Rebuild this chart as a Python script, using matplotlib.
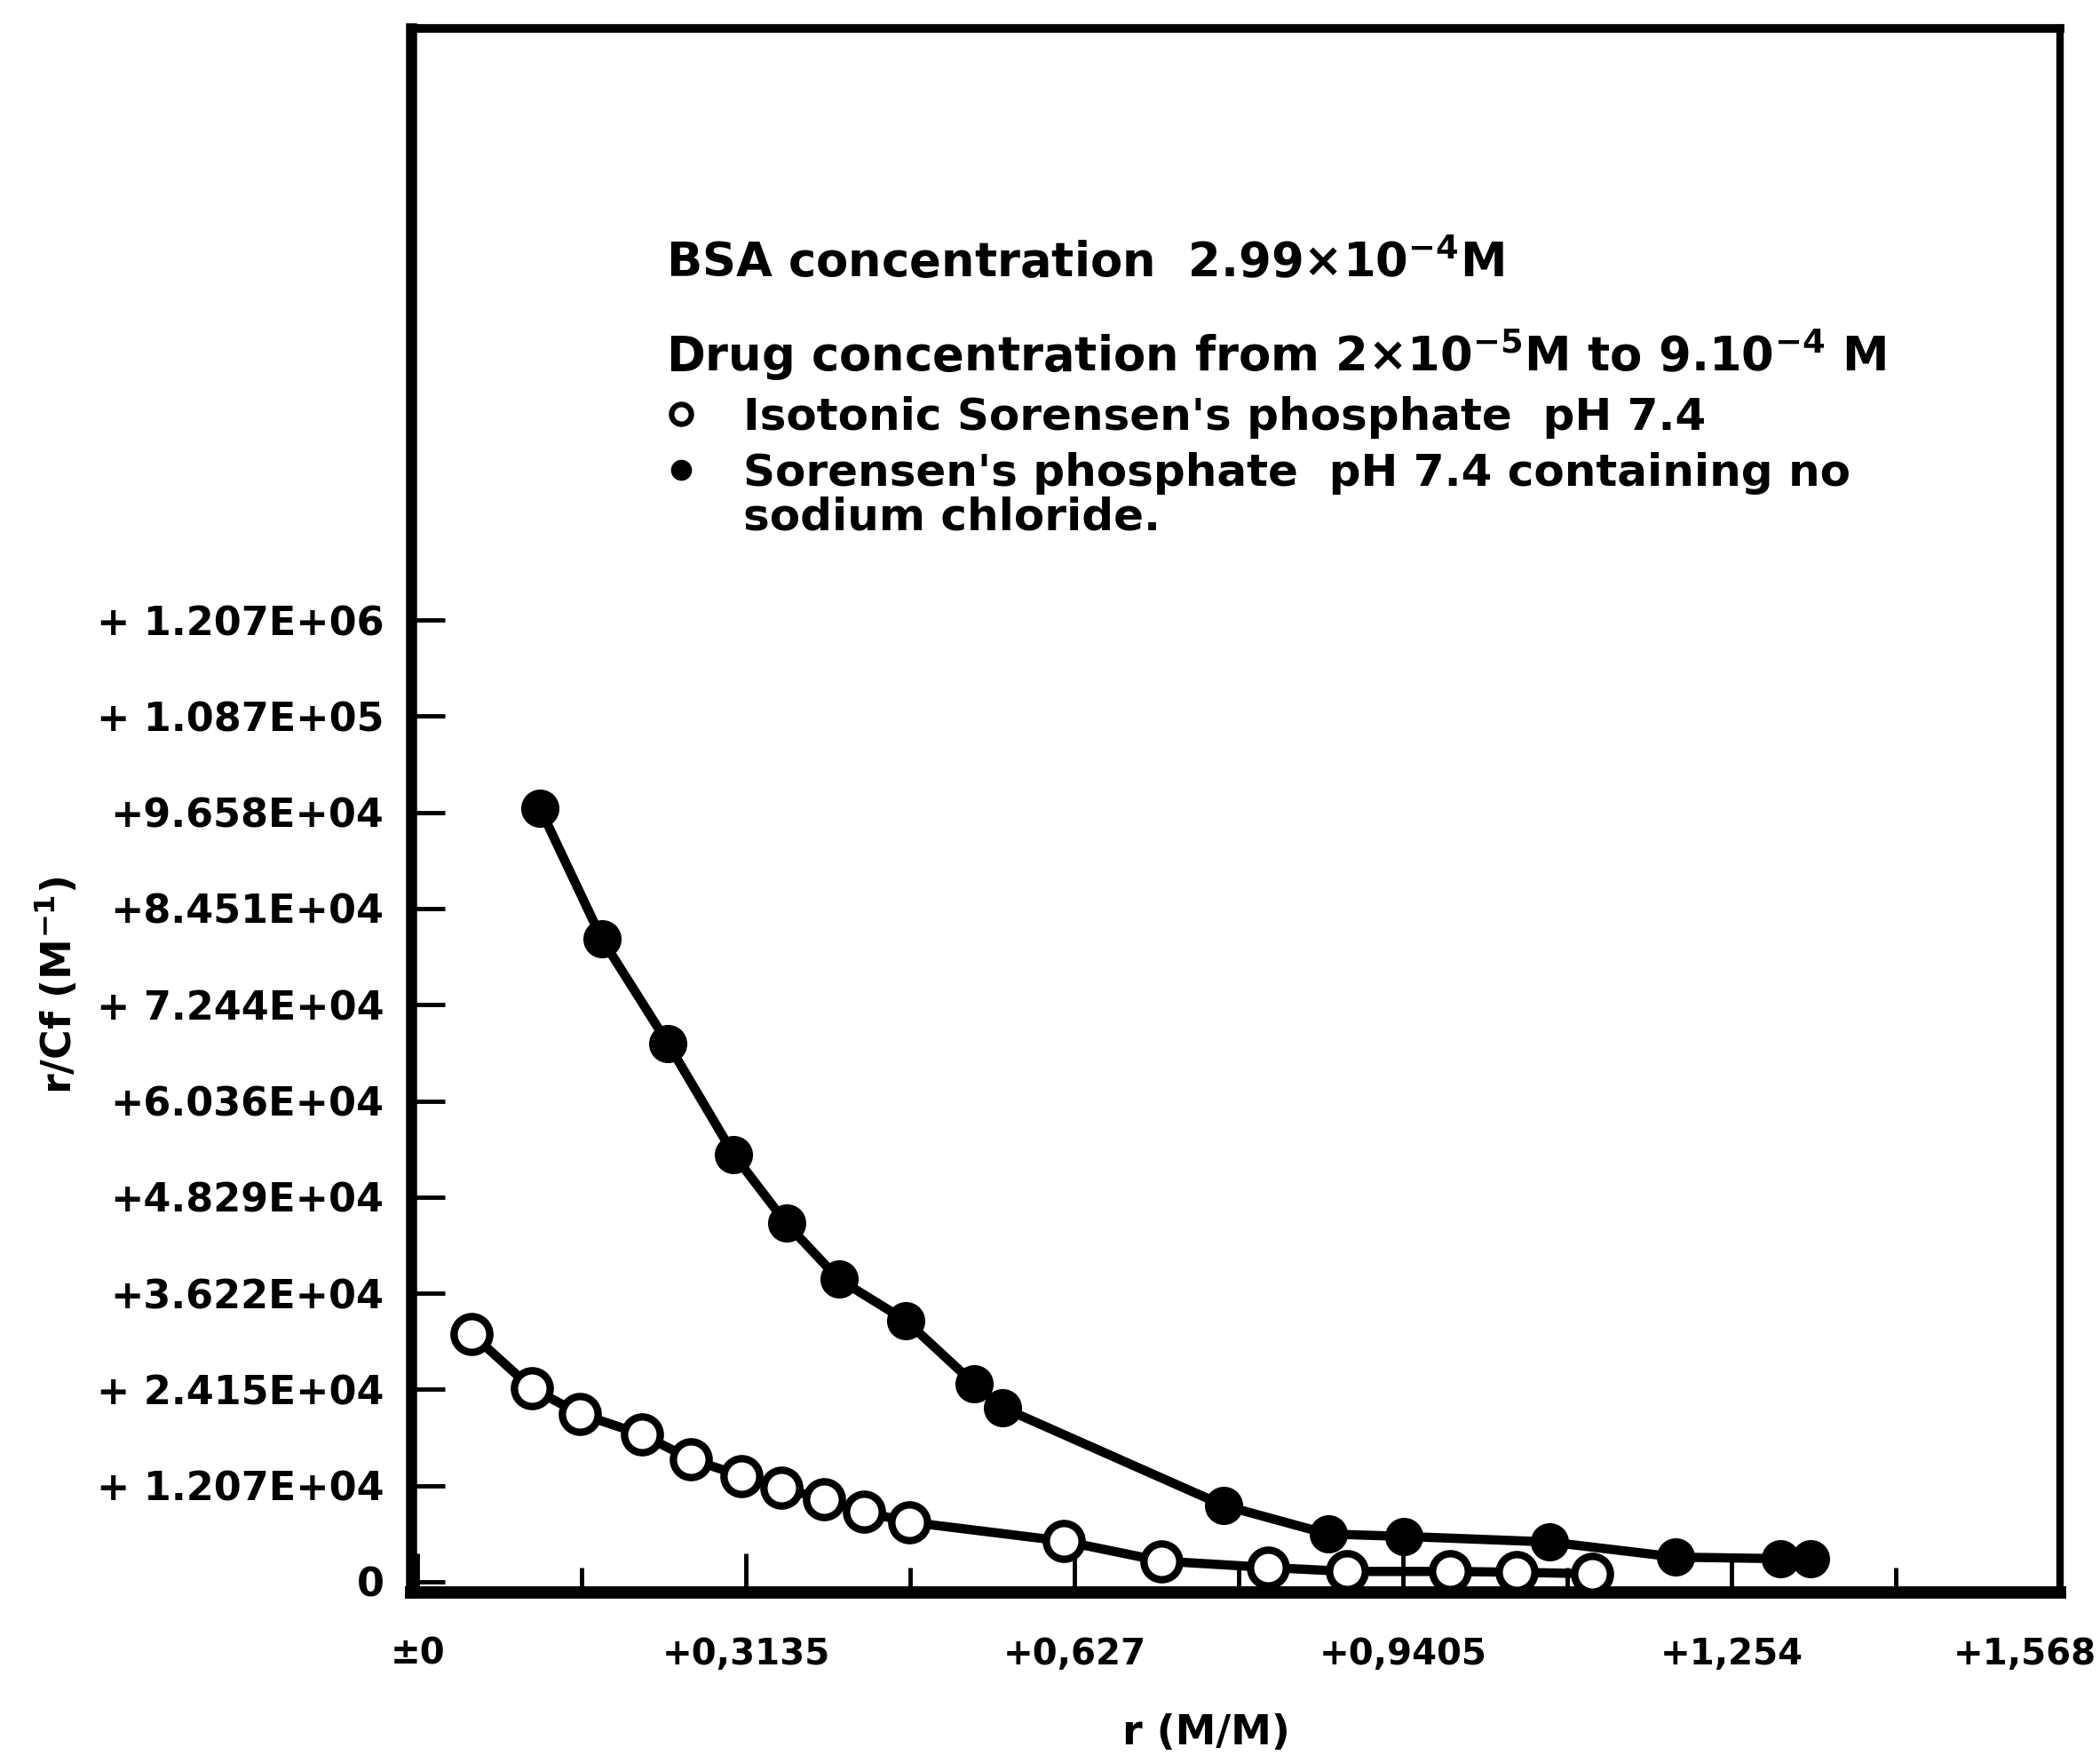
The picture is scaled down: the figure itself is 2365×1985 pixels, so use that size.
import matplotlib
matplotlib.use("Agg")
import matplotlib.pyplot as plt
from matplotlib.lines import Line2D
from matplotlib.transforms import ScaledTranslation

# r (M/M) against r/Cf (M^-1)
# filled circles: Sorensen's phosphate pH 7.4, no sodium chloride
r_no_nacl = [0.117, 0.176, 0.239, 0.302, 0.352, 0.402, 0.466, 0.531, 0.558,
             0.769, 0.869, 0.941, 1.080, 1.201, 1.301, 1.329]
rcf_no_nacl = [97100, 80700, 67600, 53600, 45000, 38000, 32800, 24900, 21900,
               9600, 6000, 5700, 5000, 3100, 2900, 2900]

# open circles: isotonic Sorensen's phosphate pH 7.4
r_isotonic = [0.052, 0.109, 0.155, 0.214, 0.261, 0.309, 0.347, 0.388, 0.426,
              0.469, 0.617, 0.710, 0.812, 0.887, 0.985, 1.049, 1.121]
rcf_isotonic = [31100, 24300, 21100, 18500, 15400, 13300, 11800, 10400, 8800,
                7500, 5100, 2600, 1800, 1300, 1300, 1200, 1000]

x_major = [0, 0.3135, 0.627, 0.9405, 1.254, 1.5675]
x_major_labels = ["\u00b10", "+0,3135", "+0,627", "+0,9405", "+1,254", "+1,568"]
x_minor = [0.15675, 0.47025, 0.78375, 1.09725, 1.41075]

y_ticks = [0, 12070, 24150, 36220, 48290, 60360, 72440, 84510, 96580, 108700, 120700]
y_labels = ["0", "+ 1.207E+04", "+ 2.415E+04", "+3.622E+04", "+4.829E+04",
            "+6.036E+04", "+ 7.244E+04", "+8.451E+04", "+9.658E+04",
            "+ 1.087E+05", "+ 1.207E+06"]

plt.rcParams['font.family'] = ['DejaVu Sans']
plt.rcParams['font.weight'] = 'bold'
plt.rcParams['mathtext.default'] = 'bf'

W, H = 2365, 1985
fig = plt.figure(figsize=(W / 100, H / 100), dpi=100, facecolor='white')
ax = fig.add_axes([463 / W, 1 - 1793 / H, (2320 - 463) / W, (1793 - 32) / H])

ax.plot(r_no_nacl, rcf_no_nacl, color='black', lw=7.5, marker='o', ms=30,
        mfc='black', mec='black', clip_on=False, zorder=3)
ax.plot(r_isotonic, rcf_isotonic, color='black', lw=7.5, marker='o', ms=29,
        mfc='white', mec='black', mew=6, clip_on=False, zorder=3)

ax.set_xlim(-0.006, 1.5675)
ax.set_ylim(-1340, 195000)

ax.set_xticks(x_major)
ax.set_xticklabels(x_major_labels)
ax.set_xticks(x_minor, minor=True)
ax.set_yticks(y_ticks)
ax.set_yticklabels(y_labels)

ax.tick_params(axis='x', which='major', direction='in', length=32, width=3.5,
               pad=36, labelsize=29)
ax.tick_params(axis='x', which='minor', direction='in', length=20, width=3.5)
ax.tick_params(axis='y', direction='in', length=27, width=3.5, pad=22, labelsize=32)

# last x label sits just inside the page edge
last = ax.get_xticklabels()[-1]
last.set_transform(last.get_transform() + ScaledTranslation(-0.4, 0, fig.dpi_scale_trans))

for side, lw in [('left', 9), ('bottom', 10), ('top', 7), ('right', 6)]:
    ax.spines[side].set_linewidth(lw)

ax.set_xlabel("r (M/M)", fontsize=33, fontweight='bold')
ax.xaxis.label.set_va('center')
ax.xaxis.set_label_coords(0.482, -0.090)
ax.set_ylabel("r/Cf (M$^{-1}$)", fontsize=33, fontweight='bold')
ax.yaxis.label.set_va('center')
ax.yaxis.set_label_coords(-0.214, 0.388)

# annotation block
fig.text(750 / W, 1 - 312 / H, r"BSA concentration  2.99$\times$10$^{-4}$M",
         fontsize=38, ha='left', va='baseline')
fig.text(750 / W, 1 - 418 / H,
         r"Drug concentration from 2$\times$10$^{-5}$M to 9.10$^{-4}$ M",
         fontsize=38, ha='left', va='baseline')

handles = [Line2D([], [], marker='o', ls='none', ms=16, mfc='white', mec='black', mew=4.5),
           Line2D([], [], marker='o', ls='none', ms=16, mfc='black', mec='black')]
labels = ["Isotonic Sorensen's phosphate  pH 7.4",
          "Sorensen's phosphate  pH 7.4 containing no"]
leg = ax.legend(handles, labels, loc='upper left',
                bbox_to_anchor=(742 / W, 1 - 446 / H), bbox_transform=fig.transFigure,
                frameon=False, fontsize=36, handlelength=1.0, handletextpad=0.9,
                borderpad=0, borderaxespad=0, labelspacing=0.3)

fig.canvas.draw()
bb = leg.get_texts()[1].get_window_extent(fig.canvas.get_renderer())
fig.text(bb.x0 / W, 1 - 596 / H, "sodium chloride.", fontsize=36,
         ha='left', va='baseline')

fig.savefig("out.png", dpi=100, facecolor='white')
